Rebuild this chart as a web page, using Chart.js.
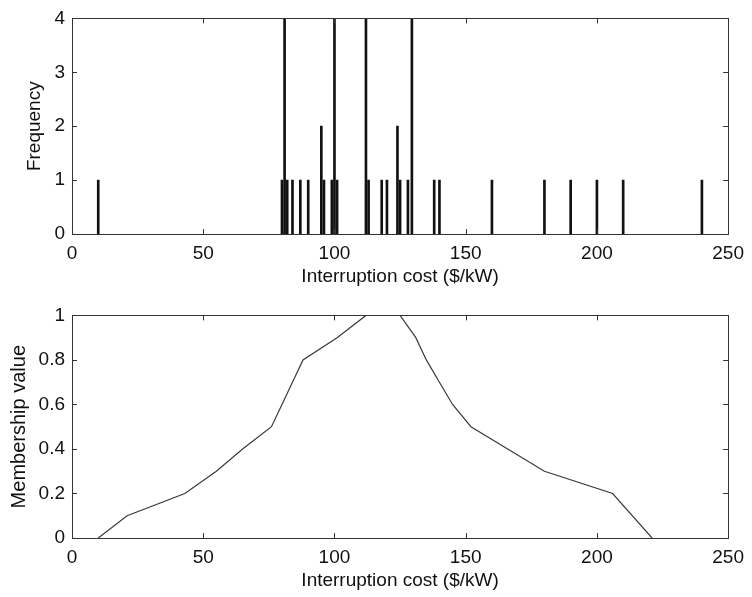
<!DOCTYPE html>
<html>
<head>
<meta charset="utf-8">
<script src="https://cdn.jsdelivr.net/npm/chart.js@4.4.0/dist/chart.umd.min.js"></script>
<style>
  html, body { margin: 0; padding: 0; background: #fff; }
  #wrap { position: relative; width: 752px; height: 597px; }
  #c1 { position: absolute; left: 0; top: 0; }
  #c2 { position: absolute; left: 0; top: 297px; }
</style>
</head>
<body>
<div id="wrap">
  <canvas id="c1" width="752" height="297"></canvas>
  <canvas id="c2" width="752" height="300"></canvas>
</div>
<script>
// ---- Data ----
const costValues = [10, 80, 81, 82, 84, 87, 90, 95, 96, 99, 100, 101, 112, 113, 118, 120, 124, 125, 128, 129.5, 138, 140, 160, 180, 190, 200, 210, 240];
const frequencies = [1, 1, 4, 1, 1, 1, 1, 2, 1, 1, 4, 1, 4, 1, 1, 1, 2, 1, 1, 4, 1, 1, 1, 1, 1, 1, 1, 1];

const membershipCost = [10, 21, 43, 55, 65, 76, 80, 84, 88, 101, 112, 125, 131, 135, 140, 145, 152, 166, 180, 206, 221];
const membershipValue = [0, 0.1, 0.2, 0.3, 0.4, 0.5, 0.6, 0.7, 0.8, 0.9, 1, 1, 0.9, 0.8, 0.7, 0.6, 0.5, 0.4, 0.3, 0.2, 0];

const xTicks = [0, 50, 100, 150, 200, 250];
const freqTicks = [0, 1, 2, 3, 4];
const memberTicks = [0, 0.2, 0.4, 0.6, 0.8, 1];

const xTitle = 'Interruption cost ($/kW)';
const freqTitle = 'Frequency';
const memberTitle = 'Membership value';

// ---- Styling ----
const FONT = "'Liberation Sans', Arial, Helvetica, sans-serif";
const TEXT = '#111';
const AXIS = '#333';

const boxTicks = {
  id: 'boxTicks',
  afterDraw(chart) {
    const { ctx, chartArea: a, scales } = chart;
    ctx.save();
    ctx.strokeStyle = AXIS;
    ctx.lineWidth = 1;
    ctx.strokeRect(Math.round(a.left) + 0.5, Math.round(a.top) + 0.5,
                   Math.round(a.right - a.left), Math.round(a.bottom - a.top));
    const L = 5;
    ctx.beginPath();
    scales.x.ticks.forEach(t => {
      const px = Math.round(scales.x.getPixelForValue(t.value)) + 0.5;
      ctx.moveTo(px, a.bottom); ctx.lineTo(px, a.bottom - L);
      ctx.moveTo(px, a.top); ctx.lineTo(px, a.top + L);
    });
    scales.y.ticks.forEach(t => {
      const py = Math.round(scales.y.getPixelForValue(t.value)) + 0.5;
      ctx.moveTo(a.left, py); ctx.lineTo(a.left + L, py);
      ctx.moveTo(a.right, py); ctx.lineTo(a.right - L, py);
    });
    ctx.stroke();
    ctx.restore();
  }
};

function xScale(height, titlePadBottom) {
  return {
    type: 'linear', min: 0, max: 250, offset: false,
    afterBuildTicks: s => { s.ticks = xTicks.map(v => ({ value: v })); },
    afterFit: s => { s.height = height; },
    grid: { display: false, drawTicks: false },
    border: { display: false },
    ticks: { color: TEXT, font: { family: FONT, size: 19 }, padding: 8, maxRotation: 0 },
    title: { display: true, text: xTitle, color: TEXT, font: { family: FONT, size: 19 },
             padding: { top: 0, bottom: titlePadBottom } }
  };
}

function yScale(min, max, ticks, title, titleSize, titlePadTop, fmt) {
  return {
    type: 'linear', min, max,
    afterBuildTicks: s => { s.ticks = ticks.map(v => ({ value: v })); },
    afterFit: s => { s.width = 72; },
    grid: { display: false, drawTicks: false },
    border: { display: false },
    ticks: { color: TEXT, font: { family: FONT, size: 19 }, padding: 7, callback: fmt },
    title: { display: true, text: title, color: TEXT, font: { family: FONT, size: titleSize },
             padding: { top: titlePadTop, bottom: 0 } }
  };
}

Chart.defaults.animation = false;

new Chart(document.getElementById('c1'), {
  type: 'bar',
  data: {
    datasets: [{
      data: costValues.map((c, i) => ({ x: c, y: frequencies[i] })),
      backgroundColor: '#111',
      borderWidth: 0,
      barThickness: 2
    }]
  },
  options: {
    responsive: false,
    devicePixelRatio: 1,
    layout: { padding: { top: 16, right: 20, left: 0, bottom: 0 } },
    plugins: { legend: { display: false }, tooltip: { enabled: false } },
    scales: {
      x: xScale(63, 9),
      y: yScale(0, 4, freqTicks, freqTitle, 19, 23, v => String(v))
    }
  },
  plugins: [boxTicks]
});

new Chart(document.getElementById('c2'), {
  type: 'line',
  data: {
    datasets: [{
      data: membershipCost.map((c, i) => ({ x: c, y: membershipValue[i] })),
      borderColor: '#3a3a3a',
      borderWidth: 1.2,
      pointRadius: 0,
      fill: false,
      tension: 0
    }]
  },
  options: {
    responsive: false,
    devicePixelRatio: 1,
    layout: { padding: { top: 18, right: 20, left: 0, bottom: 0 } },
    plugins: { legend: { display: false }, tooltip: { enabled: false } },
    scales: {
      x: xScale(59, 5),
      y: yScale(0, 1, memberTicks, memberTitle, 20, 7, v => String(Math.round(v * 10) / 10))
    }
  },
  plugins: [boxTicks]
});
</script>
</body>
</html>
